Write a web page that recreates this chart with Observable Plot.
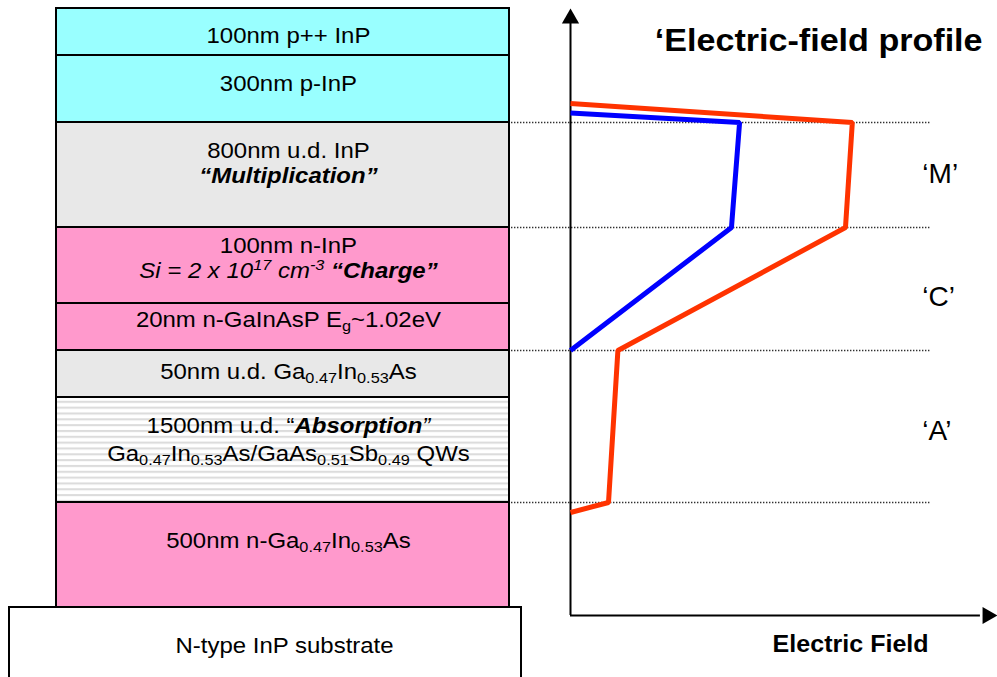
<!DOCTYPE html>
<html>
<head>
<meta charset="utf-8">
<script src="https://cdn.jsdelivr.net/npm/d3@7"></script>
<script src="https://cdn.jsdelivr.net/npm/@observablehq/plot@0.6"></script>
<style>
  html, body { margin: 0; padding: 0; background: #ffffff; overflow: hidden; }
  #chart { position: relative; width: 997px; height: 677px; overflow: hidden; background: #ffffff; }
  #chart svg { position: absolute; left: 0; top: 0; }
</style>
</head>
<body>
<div id="chart"></div>
<script>
// ---------------- DATA ----------------
// Layer stack (diagram depth units, top of figure = 0, not to scale)
const layerType   = ["p", "p", "ud", "n", "n", "ud", "qw", "n"];
const layerTop    = [8, 55, 122, 227, 303, 350, 397, 502];
const layerBottom = [55, 122, 227, 303, 350, 397, 502, 607];
// label lines (markup: |..| italic, *..* bold, _{..} subscript, ^{..} superscript)
const layerLabels = [
  ["100nm p++ InP"],
  ["300nm p-InP"],
  ["800nm u.d. InP", "|*“Multiplication”*|"],
  ["100nm n-InP", "|Si = 2 x 10^{17} cm^{-3} *“Charge”*|"],
  ["20nm n-GaInAsP E_{g}~1.02eV"],
  ["50nm u.d. Ga_{0.47}In_{0.53}As"],
  ["1500nm u.d. “|*Absorption*”|", "Ga_{0.47}In_{0.53}As/GaAs_{0.51}Sb_{0.49} QWs"],
  ["500nm n-Ga_{0.47}In_{0.53}As"]
];
const substrateLabel = "N-type InP substrate";
const substrateTop = 607;

// Electric-field profiles (field in arbitrary units vs depth)
const redDepth  = [103, 122, 227, 350, 502, 512];
const redField  = [0, 66.0, 64.4, 11.1, 8.9, 0];
const blueDepth = [112.5, 122, 227, 350];
const blueField = [0, 39.6, 37.7, 0];

// Region boundaries and labels
const boundaryDepths = [122, 227, 350, 502];
const regionNames = ["‘M’", "‘C’", "‘A’"];
const regionDepth = [174, 297, 431];

const titleText = "‘Electric-field profile";
const xAxisLabel = "Electric Field";

// ---------------- LAYOUT / STYLE ----------------
const W = 997, H = 677;
const FONT = "'Liberation Sans', Arial, Helvetica, sans-serif";
const fillOf = {p: "#99FFFF", ud: "#E8E8E8", n: "#FF99CC", qw: "url(#qwStripes)"};
const labelDepth = [[35], [83], [150.5, 175.5], [245, 270.5], [319], [371], [425, 453], [540]];
const substrateLabelDepth = 645;

const layers = layerType.map((t, i) => ({type: t, top: layerTop[i], bottom: layerBottom[i]}));
const labelRows = [];
layerLabels.forEach((lines, i) => lines.forEach((txt, j) => labelRows.push({text: txt, depth: labelDepth[i][j], x: 0.024})));
labelRows.push({text: substrateLabel, depth: substrateLabelDepth, x: 0.007});

const red  = redDepth.map((d, i) => ({depth: d, E: redField[i]}));
const blue = blueDepth.map((d, i) => ({depth: d, E: blueField[i]}));
const regions = regionNames.map((n, i) => ({name: n, depth: regionDepth[i]}));

const yScale = {domain: [0, H], range: [0, H], axis: null};
const commonStyle = {background: "transparent", overflow: "hidden", fontFamily: FONT};

// ---------- Left: layer stack ----------
const stack = Plot.plot({
  width: W, height: H,
  margin: 0,
  style: commonStyle,
  x: {domain: [-1, 1], range: [56, 509], axis: null},
  y: yScale,
  color: {type: "identity"},
  marks: [
    Plot.rect([{top: substrateTop, bottom: H + 20}], {
      x1: -1.2075, x2: 1.053, y1: "top", y2: "bottom",
      fill: "white", stroke: "black", strokeWidth: 2
    }),
    Plot.rect(layers, {
      x1: -1, x2: 1, y1: "top", y2: "bottom",
      fill: d => fillOf[d.type], stroke: "black", strokeWidth: 2
    }),
    Plot.text(labelRows, {
      x: "x", y: "depth", text: "text",
      fontSize: 22, fill: "black", textAnchor: "middle", lineAnchor: "middle",
      ariaDescription: "rich:22:1.09"
    })
  ]
});

// ---------- Right: electric-field profile ----------
const field = Plot.plot({
  width: W, height: H,
  margin: 0,
  style: commonStyle,
  x: {domain: [0, 100], range: [570, 997], axis: null},
  y: yScale,
  marks: [
    Plot.ruleY(boundaryDepths, {
      y: d => d, x1: -13.8, x2: 84.3,
      stroke: "#222", strokeWidth: 1.3, strokeDasharray: "1.3,1.7"
    }),
    Plot.ruleX([0], {y1: 20, y2: 615, stroke: "black", strokeWidth: 2}),
    Plot.ruleY([615], {x1: 0, x2: 96, stroke: "black", strokeWidth: 2}),
    Plot.dot([{E: 0, depth: 18}], {x: "E", y: "depth", symbol: "triangle", r: 6.4, fill: "black", stroke: "none"}),
    Plot.dot([{E: 97.66, depth: 615}], {x: "E", y: "depth", symbol: "triangle", r: 6.4, rotate: 90, fill: "black", stroke: "none"}),
    Plot.line(red, {x: "E", y: "depth", stroke: "#FF3300", strokeWidth: 5, strokeLinejoin: "miter", strokeLinecap: "butt"}),
    Plot.line(blue, {x: "E", y: "depth", stroke: "#0000FF", strokeWidth: 5, strokeLinejoin: "miter", strokeLinecap: "butt"}),
    Plot.text([titleText], {
      x: 96.5, y: 41, text: d => d, textAnchor: "end", lineAnchor: "middle",
      fontSize: 31, fontWeight: "bold", fill: "black",
      ariaDescription: "rich:31:1.1"
    }),
    Plot.text([xAxisLabel], {
      x: 65.6, y: 644.5, text: d => d, textAnchor: "middle", lineAnchor: "middle",
      fontSize: 23, fontWeight: "bold", fill: "black",
      ariaDescription: "rich:23:1.09"
    }),
    Plot.text(regions, {
      x: 82.4, y: "depth", text: "name", textAnchor: "start", lineAnchor: "middle",
      fontSize: 28, fill: "black",
      ariaDescription: "rich:28:1"
    })
  ]
});

// ---------- rich text & horizontal stretch ----------
function parseRich(str) {
  const segs = [];
  let it = false, bd = false, buf = "";
  const flush = (shift) => { if (buf) { segs.push({t: buf, it, bd, shift: shift || 0}); buf = ""; } };
  for (let i = 0; i < str.length; i++) {
    const c = str[i];
    if (c === "|") { flush(); it = !it; }
    else if (c === "*") { flush(); bd = !bd; }
    else if ((c === "_" || c === "^") && str[i + 1] === "{") {
      flush();
      const j = str.indexOf("}", i);
      buf = str.slice(i + 2, j);
      flush(c === "_" ? 1 : -1);
      i = j;
    } else buf += c;
  }
  flush();
  return segs;
}

function enhance(svg) {
  d3.select(svg).selectAll("g[aria-description]").each(function () {
    const parts = this.getAttribute("aria-description").split(":");
    if (parts[0] !== "rich") return;
    const base = +parts[1], s = +parts[2];
    d3.select(this).selectAll("text").each(function () {
      const str = this.textContent;
      const segs = parseRich(str);
      while (this.firstChild) this.removeChild(this.firstChild);
      let cur = 0;
      for (const sg of segs) {
        const ts = document.createElementNS("http://www.w3.org/2000/svg", "tspan");
        const off = sg.shift === 1 ? 0.18 * base : sg.shift === -1 ? -0.36 * base : 0;
        if (off !== cur) { ts.setAttribute("dy", (off - cur).toFixed(2)); cur = off; }
        if (sg.shift) ts.setAttribute("font-size", (0.68 * base).toFixed(2));
        if (sg.it) ts.setAttribute("font-style", "italic");
        if (sg.bd) ts.setAttribute("font-weight", "bold");
        ts.textContent = sg.t;
        this.appendChild(ts);
      }
      if (s !== 1) {
        const t = this.getAttribute("transform") || "";
        const x = parseFloat(this.getAttribute("x")) || 0;
        this.setAttribute("transform", `${t} translate(${x},0) scale(${s},1) translate(${-x},0)`);
      }
    });
  });
}

// stripes for the quantum-well absorption layer
const defs = d3.select(stack).insert("defs", ":first-child");
const pat = defs.append("pattern")
  .attr("id", "qwStripes").attr("patternUnits", "userSpaceOnUse")
  .attr("x", 0).attr("y", 400.8).attr("width", 40).attr("height", 5.83);
pat.append("rect").attr("width", 40).attr("height", 5.83).attr("fill", "#FFFFFF");
pat.append("rect").attr("y", 0).attr("width", 40).attr("height", 2.1).attr("fill", "#DCDCDC");

enhance(stack);
enhance(field);

const chart = document.getElementById("chart");
chart.appendChild(stack);
chart.appendChild(field);
</script>
</body>
</html>
